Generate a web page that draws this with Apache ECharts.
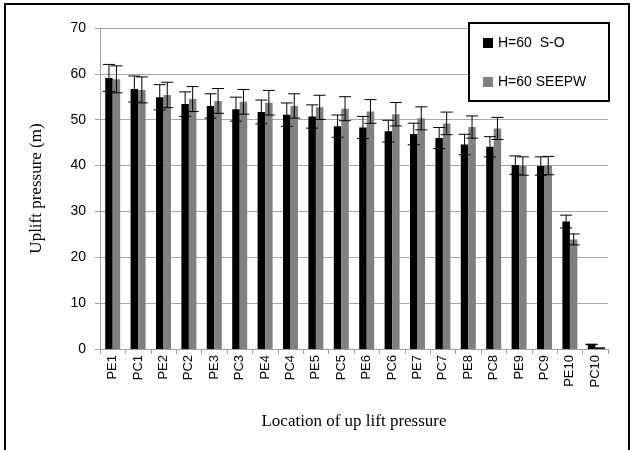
<!DOCTYPE html>
<html>
<head>
<meta charset="utf-8">
<title>Uplift pressure</title>
<script src="https://cdn.jsdelivr.net/npm/echarts@6/dist/echarts.min.js"></script>
<style>
  html, body { margin: 0; padding: 0; background: #fff; }
  #chart { width: 634px; height: 450px; }
</style>
</head>
<body>
<div id="chart"></div>
<script>
var categories = ['PE1', 'PC1', 'PE2', 'PC2', 'PE3', 'PC3', 'PE4', 'PC4', 'PE5', 'PC5',
  'PE6', 'PC6', 'PE7', 'PC7', 'PE8', 'PC8', 'PE9', 'PC9', 'PE10', 'PC10'];
var soValues = [59.1, 56.7, 54.9, 53.4, 53.0, 52.3, 51.7, 51.1, 50.7, 48.6,
  48.3, 47.5, 46.9, 46.0, 44.6, 44.1, 40.1, 39.9, 27.8, 1.0];
var seepwValues = [58.8, 56.5, 55.4, 54.5, 54.1, 53.9, 53.7, 53.0, 52.7, 52.4,
  51.8, 51.2, 50.3, 49.2, 48.4, 48.1, 39.9, 40.0, 23.9, 0.2];
var seriesNames = ['H=60  S-O', 'H=60 SEEPW'];
var yTicks = [0, 10, 20, 30, 40, 50, 60, 70];
// error bars are a percentage of the value (excel style)
var errorPct = 0.05;

var barW = 7.5;

var chart = echarts.init(document.getElementById('chart'));

// error bar for one series, shifted left/right of the category centre
function errorSeries(values, shift) {
  var data = values.map(function (v, i) { return [i, v]; });
  return {
    type: 'custom',
    z: 5,
    silent: true,
    encode: { x: 0, y: 1 },
    data: data,
    renderItem: function (params, api) {
      var v = api.value(1);
      var e = v * errorPct;
      var top = api.coord([api.value(0), v + e]);
      var bot = api.coord([api.value(0), v - e]);
      var x = top[0] + shift;
      var cap = 6;
      var st = { stroke: '#000', lineWidth: 1 };
      return {
        type: 'group',
        children: [
          { type: 'line', shape: { x1: x, y1: top[1], x2: x, y2: bot[1] }, style: st },
          { type: 'line', shape: { x1: x - cap, y1: top[1], x2: x + cap, y2: top[1] }, style: st },
          { type: 'line', shape: { x1: x - cap, y1: bot[1], x2: x + cap, y2: bot[1] }, style: st }
        ]
      };
    }
  };
}

var option = {
  animation: false,
  backgroundColor: '#fff',
  grid: {
    left: 100,
    right: 26,
    top: 28,
    bottom: 101
  },
  legend: {
    data: seriesNames,
    orient: 'vertical',
    left: 478,
    top: 31,
    z: 20,
    itemWidth: 10,
    itemHeight: 10,
    itemGap: 25,
    icon: 'rect',
    textStyle: {
      fontFamily: 'Liberation Sans',
      fontSize: 14,
      color: '#000'
    }
  },
  graphic: [
    {
      // outer frame of the picture
      type: 'rect',
      z: 1,
      silent: true,
      shape: { x: 5, y: 4, width: 624, height: 470 },
      style: { fill: null, stroke: '#000', lineWidth: 2 }
    },
    {
      // legend box
      type: 'rect',
      z: 15,
      silent: true,
      shape: { x: 469, y: 23, width: 140, height: 78 },
      style: { fill: '#fff', stroke: '#000', lineWidth: 2 }
    }
  ],
  xAxis: {
    type: 'category',
    data: categories,
    name: 'Location of up lift pressure',
    nameLocation: 'middle',
    nameGap: 64,
    nameTextStyle: {
      fontFamily: 'Liberation Serif',
      fontSize: 17,
      color: '#000'
    },
    axisLine: { lineStyle: { color: '#a0a0a0', width: 1 } },
    axisTick: { show: true, length: 5, inside: false, lineStyle: { color: '#a0a0a0' } },
    axisLabel: {
      rotate: 90,
      margin: 6,
      interval: 0,
      fontFamily: 'Liberation Sans',
      fontSize: 13,
      color: '#000'
    },
    splitLine: { show: false }
  },
  yAxis: {
    type: 'value',
    min: yTicks[0],
    max: yTicks[yTicks.length - 1],
    interval: yTicks[1] - yTicks[0],
    name: 'Uplift pressure (m)',
    nameLocation: 'middle',
    nameGap: 55,
    nameTextStyle: {
      fontFamily: 'Liberation Serif',
      fontSize: 17,
      color: '#000'
    },
    axisLine: { show: true, lineStyle: { color: '#a0a0a0', width: 1 } },
    axisTick: { show: true, length: 5, lineStyle: { color: '#a0a0a0' } },
    axisLabel: {
      margin: 14,
      fontFamily: 'Liberation Sans',
      fontSize: 14,
      color: '#000'
    },
    splitLine: { show: true, lineStyle: { color: '#a6a6a6', width: 1 } }
  },
  series: [
    {
      name: seriesNames[0],
      type: 'bar',
      barWidth: barW,
      barGap: '0%',
      itemStyle: { color: '#000000' },
      data: soValues
    },
    {
      name: seriesNames[1],
      type: 'bar',
      barWidth: barW,
      barGap: '0%',
      itemStyle: { color: '#808080' },
      data: seepwValues
    },
    errorSeries(soValues, -barW / 2),
    errorSeries(seepwValues, barW / 2)
  ]
};

chart.setOption(option);
</script>
</body>
</html>
